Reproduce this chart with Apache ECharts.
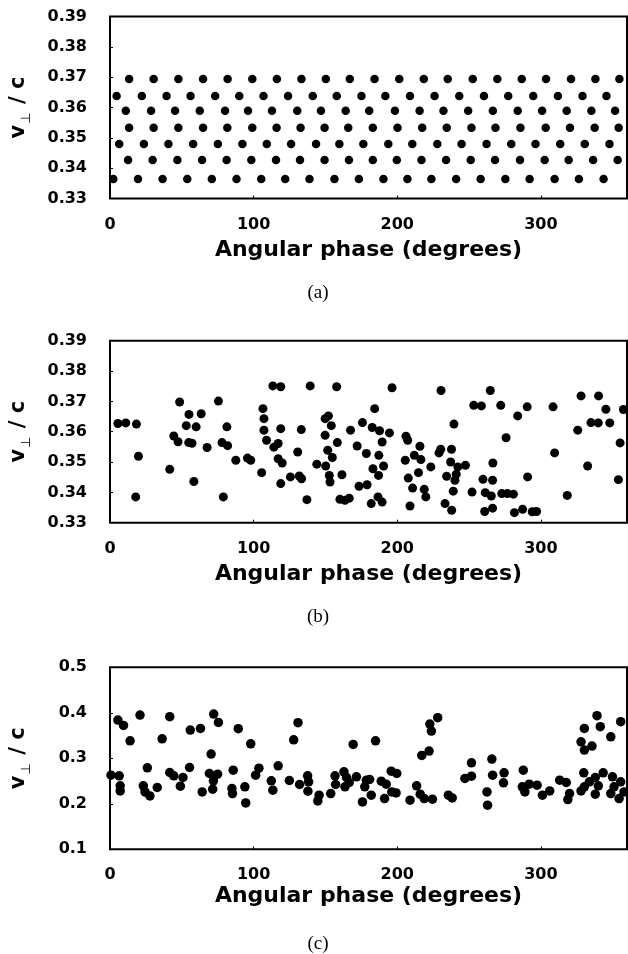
<!DOCTYPE html>
<html>
<head>
<meta charset="utf-8">
<script src="https://cdn.jsdelivr.net/npm/echarts@6/dist/echarts.min.js"></script>
<style>
  html, body { margin: 0; padding: 0; background: #fff; }
  #chart { width: 628px; height: 954px; }
</style>
</head>
<body>
<div id="chart"></div>
<script>
// panel (a): regular lattice, one x list per row
const rowV = [0.3694, 0.3638, 0.3589, 0.3533, 0.3480, 0.3427, 0.3364]
const rowX = [
  [13.3, 30.4, 47.6, 64.8, 81.9, 99.1, 116.2, 133.3, 150.3, 167.0, 184.2, 201.4, 218.5, 235.2, 252.6, 269.7, 286.7, 303.6, 321.0, 338.0, 354.7],
  [4.6, 22.2, 39.4, 56.1, 73.2, 90.0, 106.9, 124.0, 141.2, 157.9, 175.1, 191.7, 208.9, 226.0, 243.2, 260.4, 277.3, 294.7, 311.9, 329.0, 345.7],
  [11.0, 28.6, 45.3, 62.5, 80.1, 96.1, 112.8, 130.4, 146.9, 164.1, 180.5, 198.4, 215.6, 232.2, 249.4, 266.6, 283.9, 300.9, 318.0, 335.2, 351.7],
  [13.3, 30.4, 47.6, 64.8, 81.7, 99.1, 116.0, 132.7, 149.4, 165.9, 183.0, 200.2, 217.4, 234.5, 251.7, 268.4, 285.8, 303.4, 320.3, 337.5, 354.2],
  [6.4, 23.6, 40.7, 57.9, 75.1, 92.2, 109.2, 126.1, 143.5, 159.7, 176.4, 193.8, 210.5, 227.9, 244.8, 262.2, 279.4, 296.3, 313.5, 330.6, 347.8],
  [12.6, 29.7, 46.9, 64.1, 81.2, 98.4, 115.6, 132.3, 149.4, 166.4, 183.0, 199.7, 216.9, 234.0, 251.2, 268.1, 285.5, 302.7, 319.4, 336.4, 353.5],
  [2.3, 19.5, 36.6, 53.8, 70.9, 88.1, 105.3, 122.0, 138.9, 156.3, 173.3, 190.4, 207.1, 223.8, 241.0, 258.1, 275.3, 292.2, 309.6, 326.5, 343.7]
]

// panel (b)
const phaseB = [5.5, 11.0, 18.4, 19.8, 17.9, 48.5, 55.0, 63.5, 53.1, 60.0, 44.4, 47.4, 54.8, 57.1, 67.6, 41.6, 58.4, 75.5, 81.4, 78.0,
  81.9, 78.9, 87.6, 95.7, 98.0, 106.5, 107.2, 107.2, 109.0, 105.6, 113.4, 118.9, 118.9, 117.1, 114.1, 117.1, 119.9, 118.9, 125.6, 131.8,
  133.4, 133.2, 130.7, 137.1, 139.4, 144.0, 150.2, 149.8, 152.1, 154.1, 149.8, 151.6, 154.8, 152.7, 153.2, 158.3, 161.5, 157.8, 160.1, 163.6,
  166.6, 167.5, 172.1, 175.8, 173.4, 179.0, 178.5,
  182.6, 187.7, 184.3, 196.4, 194.6, 189.5, 187.2, 183.1, 190.5, 187.0, 186.6, 189.5, 181.9,
  206.1, 207.3, 215.8, 211.9, 216.5, 205.6, 223.4, 214.8, 207.7, 210.7, 218.8, 219.9, 208.9,
  230.5, 239.5, 230.3, 229.1, 237.8, 237.2, 242.2, 247.5, 241.1, 234.4, 240.2, 239.0, 233.3, 237.9,
  252.1, 253.3, 258.6, 264.8, 272.1, 275.8, 266.6, 259.7, 266.4, 261.3, 265.5, 260.9, 266.4, 272.8, 276.7, 280.9, 281.6, 287.3, 294.0, 297.0,
  283.9, 290.5, 290.8, 308.5, 309.6, 318.4,
  328.0, 340.2, 345.3, 334.9, 340.0, 348.0, 325.7, 332.6, 355.2, 354.0, 357.5]
const vB = [0.3627, 0.3629, 0.3625, 0.3519, 0.3385, 0.3698, 0.3657, 0.3659, 0.3620, 0.3616, 0.3586, 0.3567, 0.3564, 0.3562, 0.3548, 0.3476, 0.3436, 0.3701, 0.3616, 0.3564,
  0.3554, 0.3385, 0.3506, 0.3513, 0.3506, 0.3676, 0.3643, 0.3605, 0.3572, 0.3465, 0.3751, 0.3748, 0.3610, 0.3561, 0.3549, 0.3511, 0.3497, 0.3429, 0.3451, 0.3454,
  0.3445, 0.3607, 0.3533, 0.3376, 0.3751, 0.3493, 0.3487, 0.3643, 0.3652, 0.3620, 0.3588, 0.3539, 0.3515, 0.3456, 0.3434, 0.3564, 0.3458, 0.3748, 0.3377, 0.3374,
  0.3381, 0.3605, 0.3553, 0.3630, 0.3420, 0.3425, 0.3528,
  0.3614, 0.3603, 0.3676, 0.3745, 0.3596, 0.3566, 0.3522, 0.3478, 0.3487, 0.3456, 0.3385, 0.3368, 0.3363,
  0.3585, 0.3572, 0.3552, 0.3522, 0.3508, 0.3506, 0.3484, 0.3465, 0.3447, 0.3414, 0.3410, 0.3385, 0.3355,
  0.3736, 0.3625, 0.3542, 0.3530, 0.3542, 0.3500, 0.3484, 0.3489, 0.3460, 0.3453, 0.3440, 0.3404, 0.3363, 0.3341,
  0.3401, 0.3687, 0.3685, 0.3736, 0.3687, 0.3580, 0.3497, 0.3443, 0.3440, 0.3399, 0.3388, 0.3337, 0.3348, 0.3396, 0.3396, 0.3394, 0.3333, 0.3344, 0.3336, 0.3337,
  0.3652, 0.3682, 0.3451, 0.3682, 0.3530, 0.3390,
  0.3718, 0.3718, 0.3674, 0.3630, 0.3629, 0.3629, 0.3605, 0.3487, 0.3563, 0.3442, 0.3673]

// panel (c)
const phaseC = [0.7, 6.4, 7.1, 7.1, 5.5, 9.4, 14.0, 20.9, 26.0, 23.2, 24.4, 27.8, 32.9, 36.3, 41.6, 41.6, 44.4, 50.8, 49.0, 55.9,
  55.4, 63.0, 64.2, 70.4, 72.2, 75.5, 69.2, 74.9, 72.0, 71.5, 85.8, 84.9, 85.3, 89.3, 93.9, 94.5, 98.0, 103.7, 101.4, 112.3,
  113.4, 117.1, 124.9, 127.9, 130.9, 132.0, 137.6, 138.3, 137.8, 145.6, 144.7, 153.7, 156.7, 157.1, 162.9, 164.7, 163.6, 166.6, 169.3, 171.6,
  175.8, 178.5, 177.4,
  180.8, 181.9, 184.9, 188.9, 191.2, 192.3, 195.8, 199.7, 199.2, 196.2, 208.9, 213.5, 216.0, 218.8, 224.5, 217.1, 222.2, 222.7, 223.8, 228.2,
  235.6, 238.3, 247.1, 251.7, 251.7, 262.5, 262.9, 265.9, 266.4, 274.4, 274.0, 287.8, 287.1, 288.9, 291.9, 297.4, 301.1, 306.2, 313.1, 317.7,
  320.0, 318.8, 328.0, 330.3, 330.3, 335.6, 339.1, 341.4, 348.7, 355.6, 329.9, 330.3, 328.0, 333.8, 337.9, 340.0, 337.9, 343.4, 349.9, 351.0,
  354.5, 355.6, 357.9, 348.7]
const vC = [0.2629, 0.2615, 0.2394, 0.2284, 0.3840, 0.3723, 0.3385, 0.3950, 0.2791, 0.2394, 0.2262, 0.2174, 0.2358, 0.3429, 0.3914, 0.2688, 0.2615, 0.2578, 0.2387, 0.3620,
  0.2798, 0.3657, 0.2262, 0.3092, 0.3972, 0.3789, 0.2666, 0.2651, 0.2505, 0.2321, 0.2739, 0.2336, 0.2226, 0.3650, 0.2373, 0.2020, 0.3319, 0.2783, 0.2629, 0.2505,
  0.2299, 0.2835, 0.2512, 0.3407, 0.3782, 0.2424, 0.2615, 0.2482, 0.2277, 0.2189, 0.2064, 0.2226, 0.2615, 0.2424, 0.2703, 0.2578, 0.2373, 0.2468, 0.3305, 0.2593,
  0.2042, 0.2519, 0.2373,
  0.2534, 0.2189, 0.3385, 0.2497, 0.2116, 0.2431, 0.2717, 0.2666, 0.2240, 0.2262, 0.2079, 0.2394, 0.2211, 0.2116, 0.2101, 0.3062, 0.3158, 0.3752, 0.3598, 0.3892,
  0.2189, 0.2130, 0.2556, 0.2607, 0.2901, 0.2262, 0.1969, 0.2982, 0.2629, 0.2681, 0.2461, 0.2739, 0.2373, 0.2262, 0.2431, 0.2409, 0.2189, 0.2284, 0.2519, 0.2468,
  0.2226, 0.2094, 0.3363, 0.3657, 0.3180, 0.3268, 0.3936, 0.3694, 0.3473, 0.3804, 0.2681, 0.2373, 0.2284, 0.2483, 0.2578, 0.2394, 0.2211, 0.2681, 0.2593, 0.2373,
  0.2116, 0.2483, 0.2262, 0.2226]

const panelLabels = ['(a)', '(b)', '(c)']
const xTitle = 'Angular phase (degrees)'
const yRanges = [[0.33, 0.39, 0.01], [0.33, 0.39, 0.01], [0.1, 0.5, 0.1]]

const gridTops = [16.5, 340.7, 667.3]
const titleGaps = [41, 41, 36]
const H = 182

const chart = echarts.init(document.getElementById('chart'))

const dataA = []
rowX.forEach((xs, i) => xs.forEach(x => dataA.push([x, rowV[i]])))
const dataB = phaseB.map((x, i) => [x, vB[i]])
const dataC = phaseC.map((x, i) => [x, vC[i]])

const sans = 'DejaVu Sans'

const grids = gridTops.map(t => ({
  left: 107, top: t, width: 520, height: H,
  show: true, borderColor: '#000', borderWidth: 2, backgroundColor: 'transparent'
}))

const xAxes = gridTops.map((t, i) => ({
  gridIndex: i, type: 'value', min: 0, max: 360, interval: 100,
  axisLine: { show: false },
  axisTick: { show: true, inside: true, length: 3, lineStyle: { color: '#000', width: 1 } },
  splitLine: { show: false },
  axisLabel: { color: '#000', fontFamily: sans, fontWeight: 'bold', fontSize: 16, margin: 18, showMaxLabel: false },
  name: xTitle, nameLocation: 'middle', nameGap: titleGaps[i],
  nameTextStyle: { color: '#000', fontFamily: sans, fontWeight: 'bold', fontSize: 22 }
}))

const yAxes = yRanges.map((r, i) => ({
  gridIndex: i, type: 'value', min: r[0], max: r[1], interval: r[2],
  axisLine: { show: false },
  axisTick: { show: true, inside: true, length: 3, lineStyle: { color: '#000', width: 1 } },
  splitLine: { show: false },
  axisLabel: {
    color: '#000', fontFamily: sans, fontWeight: 'bold', fontSize: 16, margin: 23,
    formatter: v => v.toFixed(r[2] < 0.05 ? 2 : 1)
  },
  name: '{v|v}{s|⊥}{r| / c}', nameLocation: 'middle', nameRotate: 90, nameGap: 80,
  nameTextStyle: {
    rich: {
      v: { fontFamily: sans, fontWeight: 'bold', fontSize: 21, color: '#000', lineHeight: 22, verticalAlign: 'top' },
      s: { fontFamily: sans, fontSize: 13, color: '#000', lineHeight: 13, padding: [12, 1, 0, 1], verticalAlign: 'top' },
      r: { fontFamily: sans, fontWeight: 'bold', fontSize: 21, color: '#000', lineHeight: 22, verticalAlign: 'top' }
    }
  }
}))

const dot = (d, i, size) => ({
  type: 'scatter', xAxisIndex: i, yAxisIndex: i, data: d,
  symbol: 'circle', symbolSize: size, silent: true,
  itemStyle: { color: '#000', opacity: 1 }
})

chart.setOption({
  backgroundColor: '#fff',
  animation: false,
  grid: grids,
  xAxis: xAxes,
  yAxis: yAxes,
  series: [dot(dataA, 0, 8.5), dot(dataB, 1, 9), dot(dataC, 2, 9.5)],
  graphic: panelLabels.map((s, i) => ({
    type: 'text', x: 318, y: gridTops[i] + 276.5,
    style: { text: s, fontFamily: 'Liberation Serif', fontSize: 19, fill: '#000', align: 'center', verticalAlign: 'middle' }
  }))
})
</script>
</body>
</html>
